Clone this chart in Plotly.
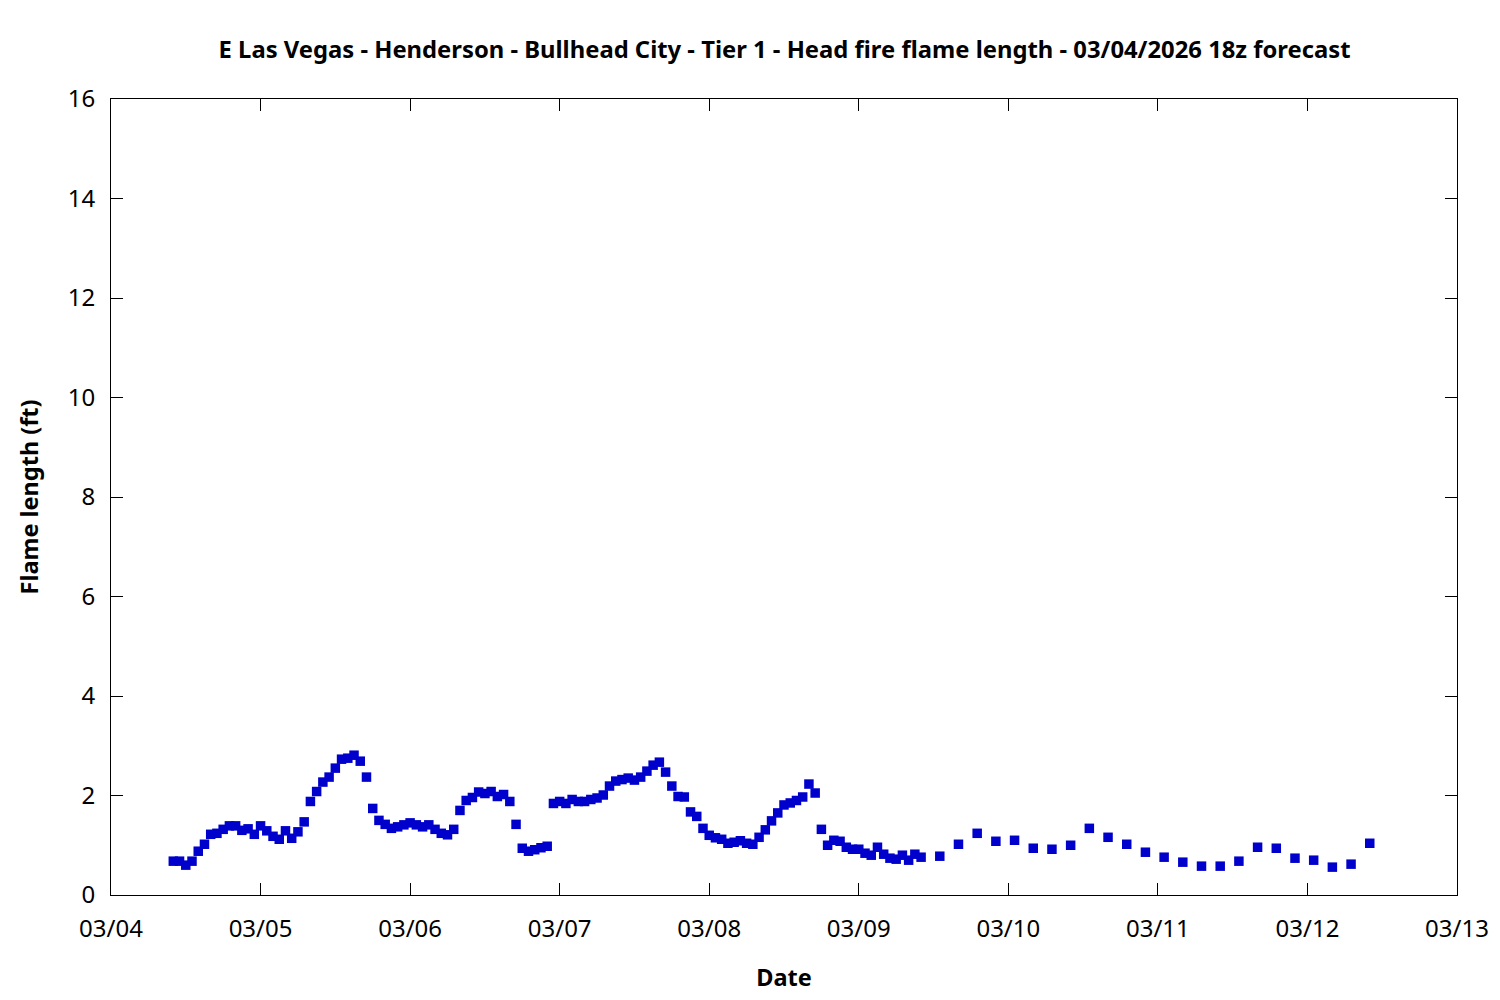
import plotly.graph_objects as go
from datetime import datetime, timedelta

# Hourly values from 03/04 10:00 through 03/09 10:00 (local), then 3-hourly
hourly_start = "2026-03-04 10:00"
hourly_values = [
    0.68, 0.68, 0.60, 0.68, 0.88, 1.02, 1.22, 1.24, 1.32, 1.39,
    1.39, 1.30, 1.33, 1.22, 1.39, 1.29, 1.18, 1.12, 1.29, 1.14,
    1.27, 1.47, 1.88, 2.08, 2.27, 2.37, 2.55, 2.73, 2.75, 2.81,
    2.69, 2.37, 1.74, 1.50, 1.42, 1.34, 1.37, 1.41, 1.45, 1.41,
    1.37, 1.41, 1.32, 1.24, 1.21, 1.32, 1.70, 1.90, 1.96, 2.07,
    2.04, 2.08, 1.98, 2.02, 1.88, 1.42, 0.94, 0.88, 0.91, 0.95,
    0.98, 1.84, 1.88, 1.84, 1.92, 1.88, 1.88, 1.92, 1.95, 2.01,
    2.19, 2.29, 2.32, 2.35, 2.31, 2.37, 2.49, 2.61, 2.67, 2.47,
    2.19, 1.98, 1.97, 1.67, 1.58, 1.34, 1.20, 1.15, 1.12, 1.04,
    1.06, 1.09, 1.04, 1.02, 1.16, 1.31, 1.49, 1.65, 1.81, 1.85,
    1.90, 1.97, 2.23, 2.05, 1.32, 1.00, 1.10, 1.08, 0.96, 0.92,
    0.92, 0.84, 0.80, 0.96, 0.82, 0.74, 0.72, 0.80, 0.70, 0.82,
    0.76,
]
three_hourly_start = "2026-03-09 13:00"
three_hourly_values = [
    0.78, 1.02, 1.24, 1.08, 1.10, 0.94, 0.92, 1.00, 1.34, 1.16,
    1.02, 0.86, 0.76, 0.66, 0.58, 0.58, 0.68, 0.96, 0.94, 0.74,
    0.70, 0.56, 0.62, 1.04,
]

x_range = ["2026-03-04 00:00", "2026-03-13 00:00"]
y_ticks = [0, 2, 4, 6, 8, 10, 12, 14, 16]
title_text = "E Las Vegas - Henderson - Bullhead City - Tier 1 - Head fire flame length - 03/04/2026 18z forecast"

t0 = datetime.strptime(hourly_start, "%Y-%m-%d %H:%M")
times = [t0 + timedelta(hours=i) for i in range(len(hourly_values))]
t1 = datetime.strptime(three_hourly_start, "%Y-%m-%d %H:%M")
times += [t1 + timedelta(hours=3 * i) for i in range(len(three_hourly_values))]
values = hourly_values + three_hourly_values

fig = go.Figure()
fig.add_trace(go.Scatter(
    x=times, y=values, mode="markers",
    marker=dict(symbol="square", size=9.5, color="#0000CC", line=dict(width=0)),
    showlegend=False,
))

font_family = "Noto Sans, Open Sans, DejaVu Sans, sans-serif"
fig.update_layout(
    width=1500, height=1000,
    margin=dict(l=103, r=51, t=91, b=113, autoexpand=False),
    paper_bgcolor="white", plot_bgcolor="white",
    font=dict(family=font_family, size=24, color="black"),
    title=dict(text="<b>" + title_text + "</b>", x=0.5177, xanchor="center",
               y=0.958, yanchor="middle", font=dict(size=23.8)),
)
fig.update_xaxes(
    type="date", range=x_range, dtick=86400000, tickformat="%m/%d",
    ticks="inside", ticklen=12, tickwidth=1, tickcolor="black",
    showline=True, linecolor="black", linewidth=1, mirror="ticks",
    showgrid=False, zeroline=False, automargin=False,
    ticklabelstandoff=12, tickfont=dict(size=24),
    title=dict(text="<b>Date</b>", standoff=26, font=dict(size=23.5)),
)
fig.update_yaxes(
    range=[0, 16], tickvals=y_ticks,
    ticks="inside", ticklen=12, tickwidth=1, tickcolor="black",
    showline=True, linecolor="black", linewidth=1, mirror="ticks",
    showgrid=False, zeroline=False, automargin=False,
    ticklabelstandoff=10, tickfont=dict(size=24),
    title=dict(text="<b>Flame length (ft)</b>", standoff=22, font=dict(size=23.5)),
)

fig.write_html("out.html")
